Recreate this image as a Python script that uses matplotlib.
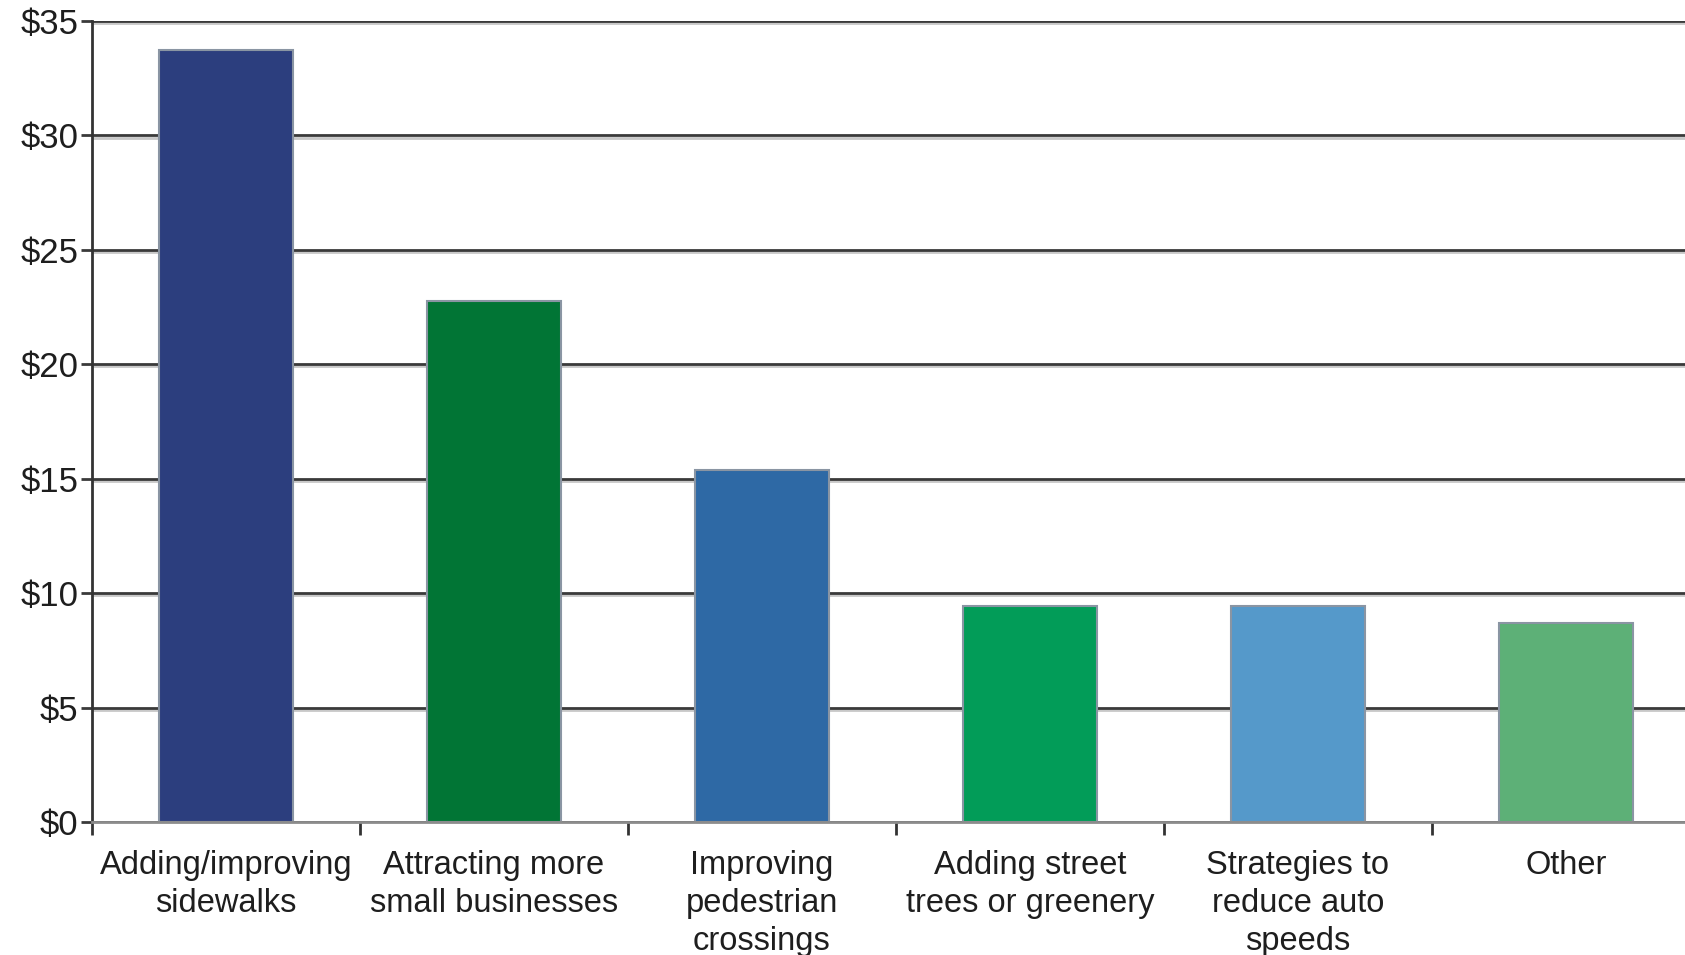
import matplotlib.pyplot as plt
import matplotlib.patheffects as pe
from matplotlib.ticker import FixedLocator, FuncFormatter

categories = [
    "Adding/improving\nsidewalks",
    "Attracting more\nsmall businesses",
    "Improving\npedestrian\ncrossings",
    "Adding street\ntrees or greenery",
    "Strategies to\nreduce auto\nspeeds",
    "Other",
]
amounts = [33.74, 22.76, 15.40, 9.45, 9.42, 8.70]
bar_colors = ["#2c3e7e", "#017535", "#2e69a5", "#029c58", "#5599ca", "#5db077"]
y_ticks = [0, 5, 10, 15, 20, 25, 30, 35]

plt.rcParams['font.family'] = ['Liberation Sans', 'DejaVu Sans']

fig = plt.figure(figsize=(16.85, 9.55), dpi=100)
# axes runs a little past the right edge of the figure
ax = fig.add_axes([92 / 1685, 133 / 955, 1608 / 1685, 801 / 955])

x = list(range(len(categories)))
ax.bar(x, amounts, width=0.5, color=bar_colors, edgecolor="#8a95a3",
       linewidth=1.5, zorder=2)

ax.set_xlim(-0.5, len(categories) - 0.5)
ax.set_ylim(0, 35)
ax.set_yticks(y_ticks)
ax.yaxis.set_major_formatter(FuncFormatter(lambda v, p: f"${v:.0f}"))

ax.set_axisbelow(True)
ax.yaxis.grid(True, color="#3a3a3a", linewidth=2,
              path_effects=[pe.SimpleLineShadow(offset=(0, -1.5),
                                                shadow_color="#c8c8c8",
                                                alpha=1),
                            pe.Normal()])

ax.set_xticks(x)
ax.set_xticklabels(categories, fontsize=23.5, color="#1e1e1e",
                   linespacing=1.3)
ax.xaxis.set_minor_locator(FixedLocator([i - 0.5 for i in range(len(categories) + 1)]))
ax.tick_params(axis="x", which="major", length=0, pad=20)
ax.tick_params(axis="x", which="minor", length=9, width=2, color="#333333",
               direction="out")
ax.tick_params(axis="y", length=8, width=2, color="#3a3a3a", pad=2,
               labelsize=25, labelcolor="#1e1e1e")

for side in ("top", "right"):
    ax.spines[side].set_visible(False)
ax.spines["left"].set_color("#333333")
ax.spines["left"].set_linewidth(2)
ax.spines["bottom"].set_color("#8c8c8c")
ax.spines["bottom"].set_linewidth(2)

fig.savefig("out.png", dpi=100)
